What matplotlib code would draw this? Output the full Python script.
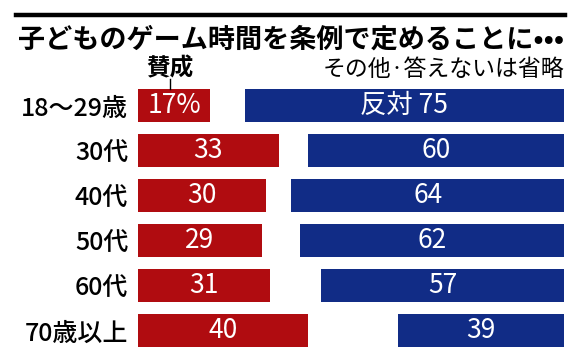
import matplotlib
matplotlib.use("Agg")
import matplotlib.pyplot as plt
from matplotlib.lines import Line2D

plt.rcParams['font.family'] = ['Noto Sans CJK JP', 'DejaVu Sans']

# data
ages = ["18〜29歳", "30代", "40代", "50代", "60代", "70歳以上"]
agree = [17, 33, 30, 29, 31, 40]
oppose = [75, 60, 64, 62, 57, 39]

title = "子どものゲーム時間を条例で定めることに•••"
agree_label = "賛成"
note = "その他·答えないは省略"

RED = "#b00c10"
BLUE = "#112c86"

W, H = 577, 357
fig = plt.figure(figsize=(W / 100, H / 100), dpi=100)

def fx(px):
    return px / W

def fy(py):
    return 1 - py / H

# axes: x 0..100 spans 138..564 px, rows centred at 105.5 + 45*i
ax = fig.add_axes([fx(138), fy(353), fx(564) - fx(138), (353 - 83) / H])
ax.set_xlim(0, 100)
ax.set_ylim(len(ages) - 0.5, -0.5)

rows = list(range(len(ages)))
ax.barh(rows, agree, height=0.73, color=RED, left=0)
ax.barh(rows, oppose, height=0.73, color=BLUE, left=[100 - v for v in oppose])

for i, (a, o) in enumerate(zip(agree, oppose)):
    a_txt = f"{a}%" if i == 0 else str(a)
    o_txt = f"反対 {o}" if i == 0 else str(o)
    ax.text(a / 2, i, a_txt, color="white", fontsize=19,
            ha="center", va="center")
    ax.text(100 - o / 2, i, o_txt, color="white", fontsize=19,
            ha="center", va="center")

ax.set_yticks(rows)
ax.set_yticklabels(ages, fontsize=18, fontweight="medium")
ax.tick_params(axis="y", length=0, pad=7)
ax.set_xticks([])
for s in ax.spines.values():
    s.set_visible(False)

# header
fig.add_artist(Line2D([fx(16), fx(565)], [fy(15), fy(15)],
                      color="black", linewidth=3.2))
fig.text(fx(18), fy(40), title, fontsize=19.5, fontweight="bold",
         ha="left", va="center")
fig.text(fx(170), fy(68), agree_label, fontsize=17, fontweight="bold",
         ha="center", va="center")
fig.text(fx(564), fy(69), note, fontsize=16.5, ha="right", va="center")
fig.add_artist(Line2D([fx(170), fx(170)], [fy(79), fy(89)],
                      color="black", linewidth=1))

fig.savefig("out.png", dpi=100, facecolor="white")
